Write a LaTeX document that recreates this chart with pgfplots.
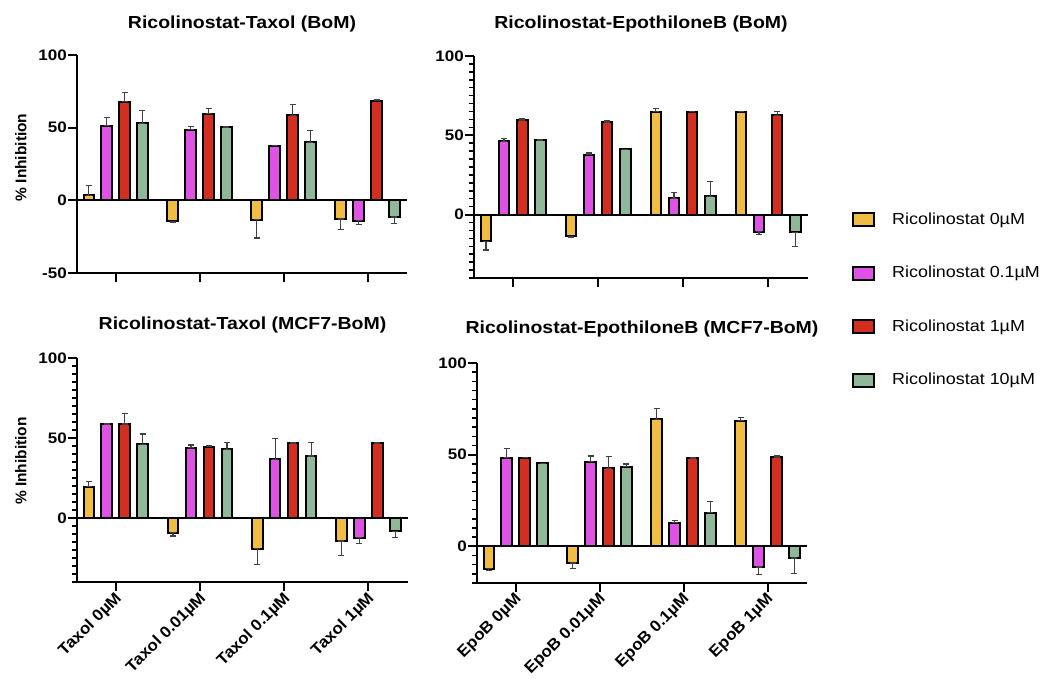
\documentclass[border=0pt]{standalone}
\usepackage{pgfplots}
\pgfplotsset{compat=1.18}
\usepackage{pgfplotstable}
\usepackage{fontspec}
\setmainfont{Liberation Sans}[FakeStretch=1.12]
\newfontfamily\vfont{Liberation Sans}
\newfontfamily\dfont{Liberation Sans}[FakeStretch=1.06]

\definecolor{cY}{RGB}{240,188,66}
\definecolor{cP}{RGB}{222,82,228}
\definecolor{cR}{RGB}{212,46,32}
\definecolor{cG}{RGB}{142,184,152}

% columns: group, value and error for Ricolinostat 0, 0.1, 1, 10 uM
\pgfplotstableread{
x y0 e0 y1 e1 y2 e2 y3 e3
0 3.4 6.6 51.3 5.7 68.0 6.4 53.0 9.0
1 -14.4 0.5 48.5 2.5 59.5 3.9 50.3 0.5
2 -13.3 12.6 37.5 0.5 58.4 7.3 40.0 8.0
3 -12.8 7.2 -14.0 2.7 68.6 0.5 -11.4 4.6
}\tA
\pgfplotstableread{
x y0 e0 y1 e1 y2 e2 y3 e3
0 -16.9 5.5 46.2 1.7 59.5 0.8 46.8 0.5
1 -13.7 0.6 37.8 1.0 58.4 0.6 41.1 0.0
2 64.8 2.1 10.3 3.8 64.8 0.4 11.4 9.7
3 64.8 0.4 -10.8 1.9 62.7 2.1 -11.2 8.8
}\tB
\pgfplotstableread{
x y0 e0 y1 e1 y2 e2 y3 e3
0 19.5 3.1 58.8 0.0 58.8 6.7 46.0 6.5
1 -9.2 2.1 43.9 1.7 44.6 0.4 42.9 4.1
2 -19.2 9.8 36.8 13.0 46.7 0.3 38.7 8.3
3 -14.4 8.9 -12.3 3.7 46.7 0.3 -8.4 3.9
}\tC
\pgfplotstableread{
x y0 e0 y1 e1 y2 e2 y3 e3
0 -12.2 0.9 48.4 5.1 48.4 0.0 45.3 0.0
1 -9.1 2.8 46.2 3.1 42.5 6.4 43.4 1.5
2 69.3 6.1 12.8 1.1 48.0 0.5 18.4 6.2
3 68.6 1.8 -11.3 4.0 48.5 0.8 -6.4 8.6
}\tD

\pgfplotsset{
  panel/.style={
    scale only axis, axis lines=left,
    axis line style={-, line width=2pt},
    xmin=-0.46, xmax=3.47, xtick={0,1,2,3},
    ymax=100, ytick={0,50,100}, yticklabels={0,50,100},
    tick align=outside, major tick length=9pt, minor tick length=5pt,
    major tick style={line width=2pt, black},
    minor tick style={line width=1.5pt, black},
    clip=false,
    yticklabel style={font=\bfseries\fontsize{15.2}{16}\selectfont, inner sep=1pt},
    xticklabel style={font=\dfont\bfseries\fontsize{16}{16}\selectfont, rotate=45, anchor=east, inner sep=1pt, yshift=-6pt},
    title style={font=\bfseries\fontsize{17.4}{18}\selectfont, anchor=center, yshift=0pt, inner sep=0pt},
    ylabel style={font=\vfont\bfseries\fontsize{15.5}{16}\selectfont, anchor=center, inner sep=0pt},
    error bars/y dir=both, error bars/y explicit,
    error bars/error bar style={line width=1.2pt, black!75},
    error bars/error mark options={line width=1.2pt, black!75, mark size=3pt, rotate=90},
    legend image code/.code={\draw[#1] (0pt,-6.5pt) rectangle (21pt,6.5pt); \path (38pt,0pt);},
  },
}
\newcommand\bars[4]{%
  \addplot[ybar, bar width=0.125, bar shift=0pt, fill=#4, draw=black, line width=2pt]
    table[x expr=\thisrow{x}+#3, y=y#2,
      y error plus expr={ifthenelse(\thisrow{y#2}<0,0,\thisrow{e#2})},
      y error minus expr={ifthenelse(\thisrow{y#2}<0,\thisrow{e#2},0)}] {#1};
}
\newcommand\allbars[1]{%
  \draw[line width=2pt] (axis cs:-0.46,0) -- (axis cs:3.47,0);
  \bars{#1}{0}{-0.32}{cY}
  \bars{#1}{1}{-0.107}{cP}
  \bars{#1}{2}{0.107}{cR}
  \bars{#1}{3}{0.32}{cG}
}

\begin{document}
\begin{tikzpicture}
\path[use as bounding box] (0,0) rectangle (1042pt,-679pt);

% top left
\begin{axis}[panel, at={(77pt,-273pt)}, anchor=south west,
  width=330pt, height=218pt, ymin=-50,
  ytick={-50,0,50,100}, yticklabels={-50,0,50,100},
  xticklabels={},
  title={Ricolinostat-Taxol (BoM)},
  title style={at={(axis description cs:0.5,1.114)}},
  ylabel={\% Inhibition},
  ylabel style={at={(axis description cs:-0.17,0.53)}}]
\allbars{\tA}
\end{axis}

% top right
\begin{axis}[panel, at={(474pt,-278pt)}, anchor=south west,
  width=334pt, height=222pt, ymin=-40,
  minor ytick={-40,-35,...,100},
  xticklabels={},
  title={Ricolinostat-EpothiloneB (BoM)},
  title style={at={(axis description cs:0.5,1.117)}},
  legend entries={Ricolinostat 0µM, Ricolinostat 0.1µM, Ricolinostat 1µM, Ricolinostat 10µM},
  legend style={at={(1.1317,0.2995)}, anchor=north west, draw=none, fill=none,
    inner sep=0pt, row sep=37.5pt, font=\fontsize{16}{17}\selectfont,
    nodes={inner sep=0pt, text height=12.5pt, text depth=3.5pt, anchor=west}},
  legend cell align=left]
\allbars{\tB}
\end{axis}

% bottom left
\begin{axis}[panel, at={(77pt,-582pt)}, anchor=south west,
  width=331pt, height=224pt, ymin=-40,
  minor ytick={-40,-35,...,100},
  xticklabels={Taxol 0µM, Taxol 0.01µM, Taxol 0.1µM, Taxol 1µM},
  title={Ricolinostat-Taxol (MCF7-BoM)},
  title style={at={(axis description cs:0.5,1.12)}},
  ylabel={\% Inhibition},
  ylabel style={at={(axis description cs:-0.17,0.54)}}]
\allbars{\tC}
\end{axis}

% bottom right
\begin{axis}[panel, at={(477pt,-583pt)}, anchor=south west,
  width=330pt, height=220pt, ymin=-20,
  minor ytick={-20,-15,...,100},
  xticklabels={EpoB 0µM, EpoB 0.01µM, EpoB 0.1µM, EpoB 1µM},
  title={Ricolinostat-EpothiloneB (MCF7-BoM)},
  title style={at={(axis description cs:0.5,1.128)}}]
\allbars{\tD}
\end{axis}
\end{tikzpicture}
\end{document}
